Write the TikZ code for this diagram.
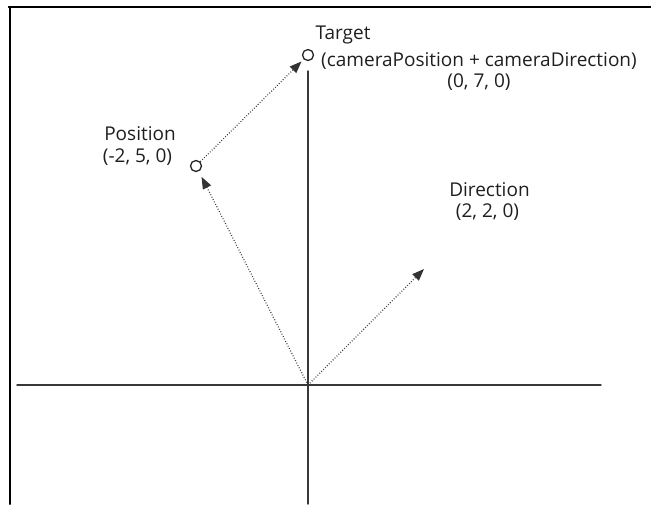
\documentclass[tikz,border=0pt]{standalone}
\usepackage{fontspec}
\setmainfont{Open Sans}
\usetikzlibrary{arrows.meta}

\begin{document}
\begin{tikzpicture}[line cap=round,line join=round,>={Triangle[length=12pt,width=9pt]},x=1pt,y=-1pt,
		axe/.style={line width=1.4pt, color=black!78},
		vecteur/.style={line width=1.2pt, color=black!80, dash pattern=on 0.8pt off 1.9pt, line cap=butt},
		sommet/.style={circle, draw=black!85, line width=1.3pt, fill=white, inner sep=0pt, minimum size=11pt},
		etiquette/.style={font=\fontsize{19}{21}\selectfont, text=black!88, inner sep=0pt}]
			\useasboundingbox (0,0) rectangle (651,504);
			%cadre
			\draw [line width=2pt] (9.5,504) -- (9.5,7);
			\draw [line width=1.2pt] (8.5,7) -- (651,7);
			%axes
			\coordinate (o) at (308,385);
			\coordinate (xg) at (17,385);
			\coordinate (xd) at (601,385);
			\coordinate (yh) at (308,71);
			\coordinate (yb) at (308,504);
			\draw [axe] (xg) -- (xd);
			\draw [axe] (yh) -- (yb);
			%marquages sommets
			\node[sommet] (pos) at (196,166) {};
			\node[sommet] (cible) at (308,55) {};
			\coordinate (dir) at (424,269);
			%vecteurs
			\draw [vecteur,->,shorten >=6pt] (o) -- (pos);
			\draw [vecteur,->,shorten >=3pt] (pos) -- (cible);
			\draw [vecteur,->] (o) -- (dir);
			%textes
			\node[etiquette, anchor=base] (tcible) at (343,39) {Target};
			\node[etiquette, anchor=base west] (tsomme) at (321,66) {(cameraPosition + cameraDirection)};
			\node[etiquette, anchor=base] (tcoord) at (479,87) {(0, 7, 0)};
			\node[etiquette, anchor=base] (tpos) at (140,140) {Position};
			\node[etiquette, anchor=base] (tposc) at (137.5,162) {(-2, 5, 0)};
			\node[etiquette, anchor=base] (tdir) at (489.5,196) {Direction};
			\node[etiquette, anchor=base] (tdirc) at (487.5,217) {(2, 2, 0)};
\end{tikzpicture}
\end{document}
